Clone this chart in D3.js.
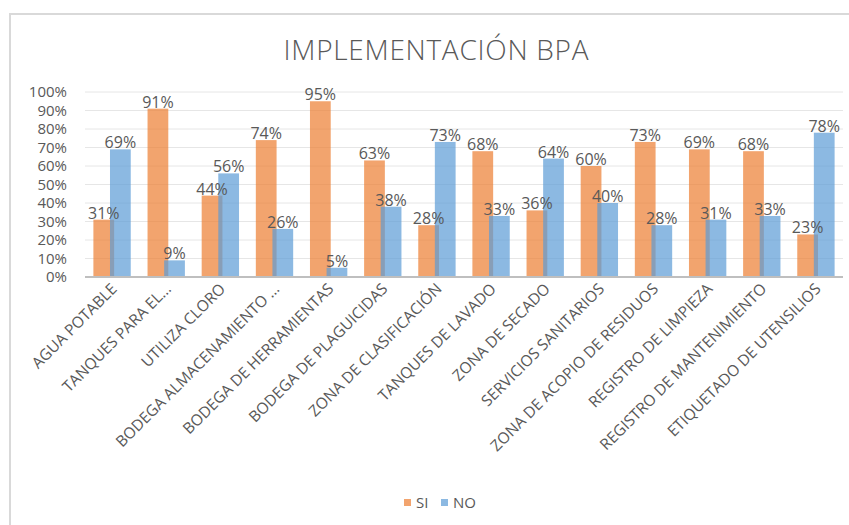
<!DOCTYPE html>
<html>
<head>
<meta charset="utf-8">
<script src="https://cdn.jsdelivr.net/npm/d3@7"></script>
<style>
  body { margin: 0; background: #fff; }
  text { font-family: "Open Sans", sans-serif; fill: #595959; }
</style>
</head>
<body>
<div class="chart"></div>
<script>
const categories = [
  "AGUA POTABLE", "TANQUES PARA EL…", "UTILIZA CLORO", "BODEGA ALMACENAMIENTO …",
  "BODEGA DE HERRAMIENTAS", "BODEGA DE PLAGUICIDAS", "ZONA DE CLASIFICACIÓN",
  "TANQUES DE LAVADO", "ZONA DE SECADO", "SERVICIOS SANITARIOS",
  "ZONA DE ACOPIO DE RESIDUOS", "REGISTRO DE LIMPIEZA", "REGISTRO DE MANTENIMIENTO",
  "ETIQUETADO DE UTENSILIOS"
];
const siValues = [31, 91, 44, 74, 95, 63, 28, 68, 36, 60, 73, 69, 68, 23];
const noValues = [69, 9, 56, 26, 5, 38, 73, 33, 64, 40, 28, 31, 33, 78];
const seriesNames = ["SI", "NO"];
const yTicks = [0, 10, 20, 30, 40, 50, 60, 70, 80, 90, 100];

const w = 849, h = 525;
const colors = d3.scaleOrdinal().domain(seriesNames).range(["#ED7D31", "#5B9BD5"]);

const svg = d3.select(".chart").append("svg").attr("width", w).attr("height", h);

// chart frame
svg.append("rect")
  .attr("x", 10).attr("y", 14).attr("width", w + 10).attr("height", h + 10)
  .attr("fill", "none").attr("stroke", "#d9d9d9").attr("stroke-width", 2);

svg.append("text")
  .attr("x", 436).attr("y", 60)
  .attr("text-anchor", "middle")
  .style("font-size", "28px").style("font-weight", 300)
  .attr("textLength", 305)
  .text("IMPLEMENTACIÓN BPA");

const x0 = d3.scaleBand().domain(categories).range([85, 843])
  .paddingInner(0.31).paddingOuter(0.155);
const x1 = d3.scaleBand().domain(seriesNames).range([0, x0.bandwidth()])
  .paddingInner(-0.25).paddingOuter(0);
const y = d3.scaleLinear().domain([0, 100]).range([277, 92]);

// gridlines
svg.append("g").selectAll("line").data(yTicks.filter(t => t > 0)).enter().append("line")
  .attr("x1", 85).attr("x2", 843)
  .attr("y1", d => y(d)).attr("y2", d => y(d))
  .attr("stroke", "#e6e6e6").attr("stroke-width", 1);

// y axis labels
const yAxis = d3.axisLeft(y).tickValues(yTicks).tickFormat(d => d + "%").tickSize(0).tickPadding(0);
const ya = svg.append("g").attr("transform", "translate(67,0)").call(yAxis);
ya.select(".domain").remove();
ya.selectAll("text").style("font-size", "15px").style("fill", "#595959")
  .style("font-family", "'Open Sans', sans-serif");

const data = categories.map((c, i) => ({ cat: c, SI: siValues[i], NO: noValues[i] }));

seriesNames.forEach(s => {
  svg.append("g").selectAll("rect").data(data).enter().append("rect")
    .attr("x", d => x0(d.cat) + x1(s))
    .attr("width", x1.bandwidth())
    .attr("y", d => y(d[s]))
    .attr("height", d => y(0) - y(d[s]))
    .attr("fill", colors(s))
    .attr("fill-opacity", 0.7);
});

// baseline
svg.append("line")
  .attr("x1", 85).attr("x2", 843).attr("y1", y(0)).attr("y2", y(0))
  .attr("stroke", "#bfbfbf").attr("stroke-width", 2);

// value labels
seriesNames.forEach(s => {
  svg.append("g").selectAll("text").data(data).enter().append("text")
    .attr("x", d => x0(d.cat) + x1(s) + x1.bandwidth() / 2)
    .attr("y", d => y(d[s]) - 1)
    .attr("text-anchor", "middle")
    .style("font-size", "16px")
    .text(d => d[s] + "%");
});

// category labels
svg.append("g").selectAll("text").data(categories).enter().append("text")
  .attr("transform", d => `translate(${x0(d) + x0.bandwidth() / 2 + 2},${286}) rotate(-45)`)
  .attr("text-anchor", "end")
  .attr("dy", "0.35em")
  .style("font-size", "15.5px")
  .text(d => d);

// legend
const legend = svg.append("g").selectAll("g").data(seriesNames).enter().append("g")
  .attr("transform", (d, i) => `translate(${404 + i * 37},499)`);
legend.append("rect").attr("width", 7).attr("height", 7)
  .attr("fill", d => colors(d)).attr("fill-opacity", 0.7);
legend.append("text").attr("x", 12).attr("y", 3.5).attr("dy", "0.35em")
  .style("font-size", "15px").text(d => d);
</script>
</body>
</html>
